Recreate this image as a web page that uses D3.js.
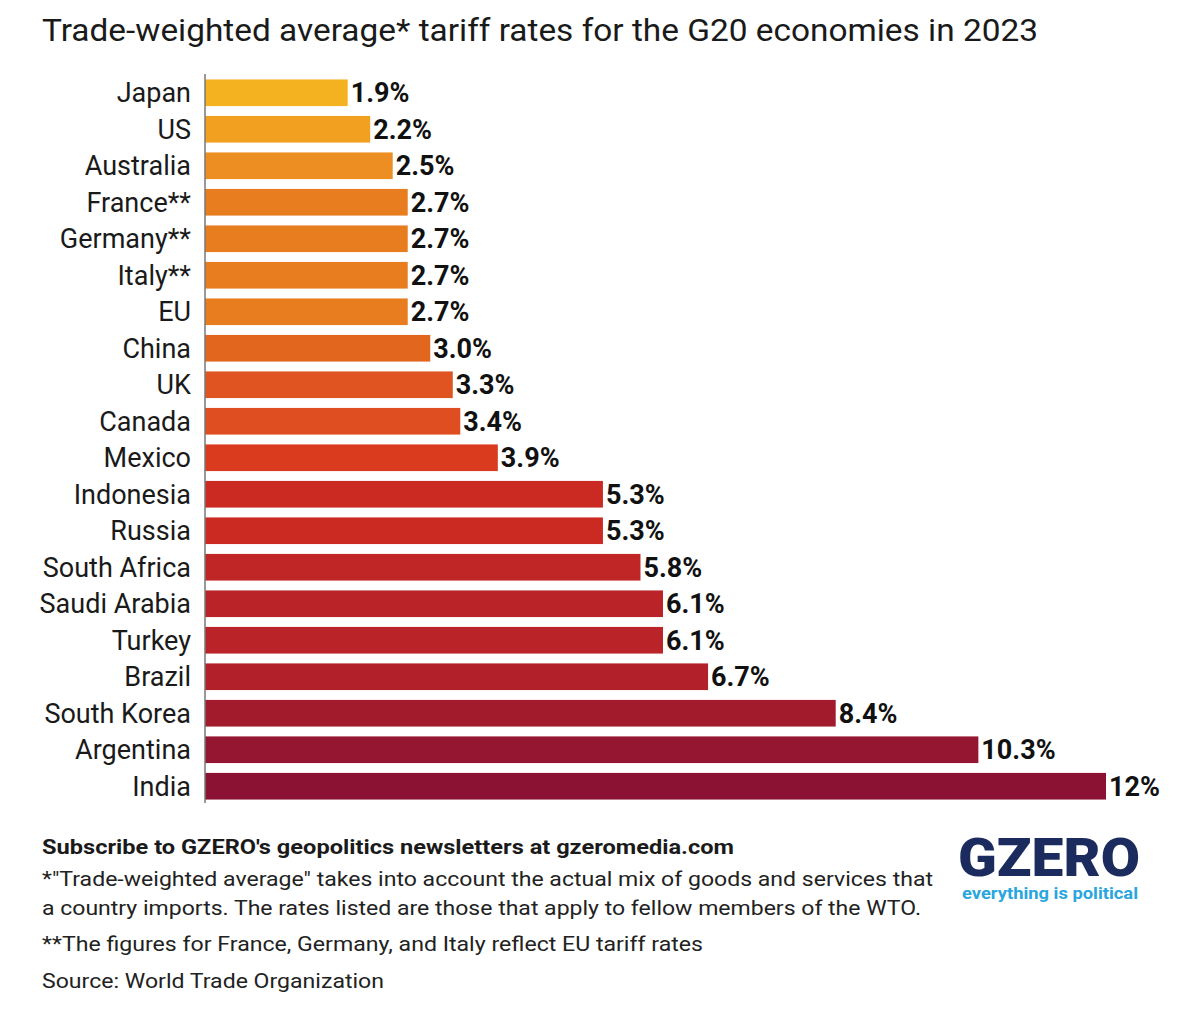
<!DOCTYPE html>
<html><head><meta charset="utf-8">
<script src="https://cdn.jsdelivr.net/npm/d3@7"></script>
<style>body{margin:0;background:#fff}svg{display:block}</style>
</head><body>
<div id="chart"></div>
<script>
const countries = ["Japan","US","Australia","France**","Germany**","Italy**","EU","China","UK","Canada","Mexico","Indonesia","Russia","South Africa","Saudi Arabia","Turkey","Brazil","South Korea","Argentina","India"];
const rates = [1.9,2.2,2.5,2.7,2.7,2.7,2.7,3.0,3.3,3.4,3.9,5.3,5.3,5.8,6.1,6.1,6.7,8.4,10.3,12];
const valueLabels = ["1.9%","2.2%","2.5%","2.7%","2.7%","2.7%","2.7%","3.0%","3.3%","3.4%","3.9%","5.3%","5.3%","5.8%","6.1%","6.1%","6.7%","8.4%","10.3%","12%"];
const title = "Trade-weighted average* tariff rates for the G20 economies in 2023";
const subscribe = "Subscribe to GZERO's geopolitics newsletters at gzeromedia.com";
const notes = [
  "*\"Trade-weighted average\" takes into account the actual mix of goods and services that",
  "a country imports. The rates listed are those that apply to fellow members of the WTO.",
  "**The figures for France, Germany, and Italy reflect EU tariff rates",
  "Source: World Trade Organization"
];
const colorStops = [1.9, 2.2, 2.5, 2.7, 3.0, 3.4, 3.9, 5.3, 6.1, 6.7, 8.4, 10.3, 12];
const colorRange = ["#F4B120","#F1A020","#EC8E22","#E87D20","#E3661E","#DE4E20","#DA3A1E","#CB2A22","#BA2328","#B22029","#A11B2D","#951630","#8C1234"];

const W = 1179, H = 1034;
const svg = d3.select("#chart").append("svg").attr("width", W).attr("height", H);
const font = "Roboto, 'Liberation Sans', sans-serif";

const x = d3.scaleLinear().domain([0, 12]).range([205, 1106]);
const y = d3.scaleBand().domain(countries).range([74.7, 804.3]).paddingInner(0.27).paddingOuter(0.13);
const color = d3.scaleLinear().domain(colorStops).range(colorRange);

// title
svg.append("text").attr("x", 42).attr("y", 41).attr("font-family", font).attr("font-size", 31)
  .attr("fill", "#1a1a1a").attr("textLength", 996).attr("lengthAdjust", "spacingAndGlyphs").text(title);

const data = countries.map((c, i) => ({c, v: rates[i], l: valueLabels[i]}));

svg.append("g").selectAll("rect").data(data).join("rect")
  .attr("x", x(0)).attr("y", d => y(d.c)).attr("width", d => x(d.v) - x(0))
  .attr("height", y.bandwidth()).attr("fill", d => color(d.v));

// axis line
svg.append("line").attr("x1", 205).attr("x2", 205).attr("y1", 74).attr("y2", 803)
  .attr("stroke", "#777").attr("stroke-width", 1.5);

// country labels
svg.append("g").selectAll("text").data(data).join("text")
  .attr("x", 191).attr("y", d => y(d.c) + y.bandwidth() / 2).attr("dy", "0.36em")
  .attr("text-anchor", "end").attr("font-family", font).attr("font-size", 27).attr("fill", "#1a1a1a")
  .text(d => d.c);

// value labels
svg.append("g").selectAll("text").data(data).join("text")
  .attr("x", d => x(d.v) + 3).attr("y", d => y(d.c) + y.bandwidth() / 2).attr("dy", "0.36em")
  .attr("font-family", font).attr("font-size", 27).attr("font-weight", "bold").attr("fill", "#111")
  .text(d => d.l);

// footer
svg.append("text").attr("x", 42).attr("y", 854).attr("font-family", font).attr("font-size", 21)
  .attr("font-weight", "bold").attr("fill", "#1a1a1a").attr("textLength", 692).attr("lengthAdjust", "spacingAndGlyphs").text(subscribe);
const noteY = [886, 915, 951, 988];
const noteW = [891, 879, 661, 342];
notes.forEach((t, i) => {
  svg.append("text").attr("x", 42).attr("y", noteY[i]).attr("font-family", font).attr("font-size", 21)
    .attr("fill", "#222").attr("textLength", noteW[i]).attr("lengthAdjust", "spacingAndGlyphs").text(t);
});

// logo
svg.append("text").attr("x", 958).attr("y", 876).attr("font-family", font).attr("font-size", 54)
  .attr("font-weight", 900).attr("fill", "#1B2B5E").attr("textLength", 182).attr("lengthAdjust", "spacingAndGlyphs").text("GZERO");
svg.append("text").attr("x", 962).attr("y", 899).attr("font-family", font).attr("font-size", 17)
  .attr("font-weight", "bold").attr("fill", "#2AA6DE").attr("textLength", 176).attr("lengthAdjust", "spacingAndGlyphs").text("everything is political");
</script>
</body></html>
